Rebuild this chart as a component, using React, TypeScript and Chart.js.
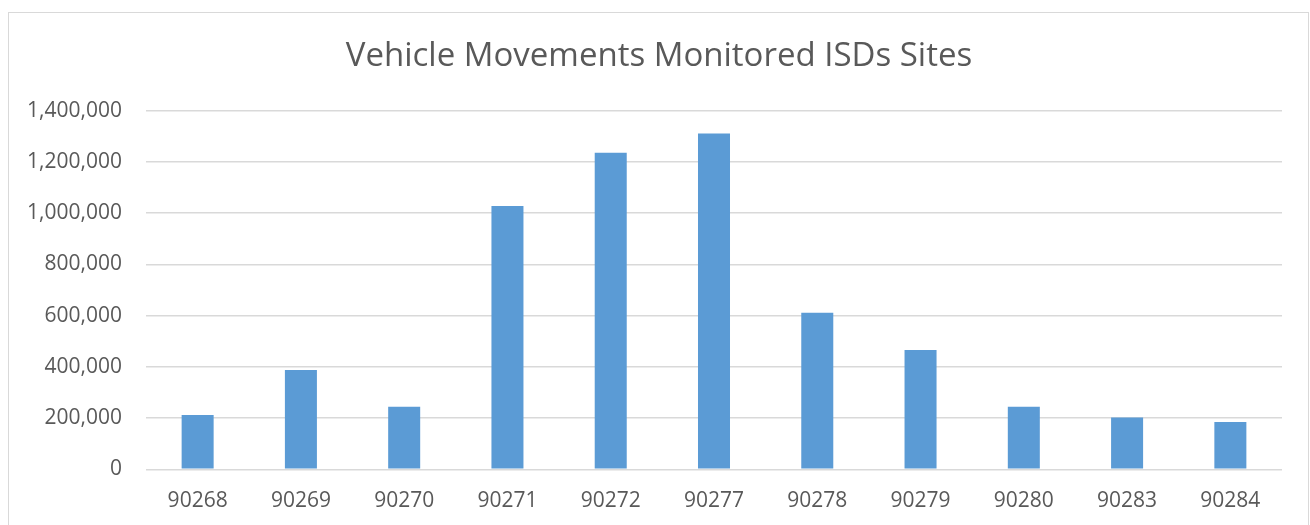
import React, { useEffect, useRef } from "react";
import { Chart, registerables } from "chart.js";

Chart.register(...registerables);

const categories = ["90268", "90269", "90270", "90271", "90272", "90277", "90278", "90279", "90280", "90283", "90284"];
const movements = [212000, 388000, 244000, 1028000, 1236000, 1311000, 611000, 466000, 244000, 202000, 185000];
const yTicks = [0, 200000, 400000, 600000, 800000, 1000000, 1200000, 1400000];
const titleText = "Vehicle Movements Monitored ISDs Sites";

const borderPlugin = {
  id: "outerBorder",
  beforeDraw(chart: any) {
    const ctx = chart.ctx;
    ctx.save();
    ctx.fillStyle = "#ffffff";
    ctx.fillRect(0, 0, chart.width, chart.height);
    ctx.strokeStyle = "#d9d9d9";
    ctx.lineWidth = 1;
    ctx.strokeRect(8.5, 12.5, 1300, 600);
    ctx.restore();
  },
};

const titlePlugin = {
  id: "centeredTitle",
  afterDraw(chart: any) {
    const ctx = chart.ctx;
    ctx.save();
    ctx.fillStyle = "#595959";
    ctx.font = "33px 'Open Sans'";
    ctx.textAlign = "center";
    ctx.textBaseline = "middle";
    ctx.fillText(titleText, 659, 57);
    ctx.restore();
  },
};

export default function App() {
  const ref = useRef<HTMLCanvasElement | null>(null);
  useEffect(() => {
    if (!ref.current) return;
    const chart = new Chart(ref.current, {
      type: "bar",
      data: {
        labels: categories,
        datasets: [
          {
            label: "Vehicle Movements",
            data: movements,
            backgroundColor: "#5b9bd5",
            barPercentage: 0.31,
            categoryPercentage: 1,
          },
        ],
      },
      options: {
        responsive: false,
        animation: false,
        layout: { padding: { left: 0, right: 28, top: 110.7, bottom: 0 } },
        plugins: {
          legend: { display: false },
          tooltip: { enabled: false },
          title: { display: false },
        },
        scales: {
          x: {
            grid: { display: false, drawTicks: false },
            border: { display: false },
            ticks: {
              color: "#595959",
              font: { family: "'Open Sans'", size: 21 },
              padding: 19,
            },
            afterFit(scale: any) {
              scale.height = 55.7;
            },
          },
          y: {
            min: 0,
            max: 1400000,
            afterBuildTicks(scale: any) {
              scale.ticks = yTicks.map((v) => ({ value: v }));
            },
            grid: { color: "#d9d9d9", lineWidth: 1.5, drawTicks: false },
            border: { display: false },
            ticks: {
              color: "#595959",
              font: { family: "'Open Sans'", size: 21 },
              padding: 24,
              callback: (v: any) => Number(v).toLocaleString("en-US"),
            },
            afterFit(scale: any) {
              scale.width = 146;
            },
          },
        },
      },
      plugins: [borderPlugin, titlePlugin],
    });
    return () => chart.destroy();
  }, []);
  return (
    <div style={{ position: "absolute", left: 0, top: 0, width: 1310, height: 525 }}>
      <canvas ref={ref} width={1310} height={525} style={{ display: "block" }} />
    </div>
  );
}
